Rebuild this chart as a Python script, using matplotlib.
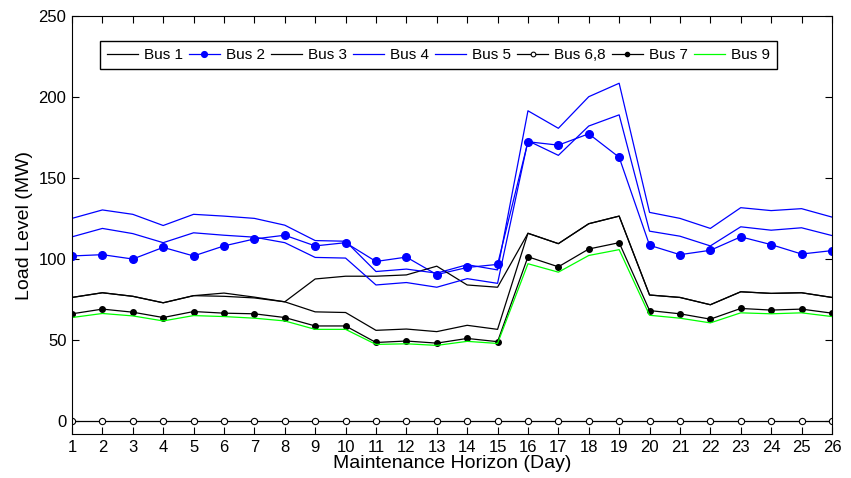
import numpy as np
import matplotlib.pyplot as plt

plt.rcParams['font.family'] = ['Liberation Sans', 'DejaVu Sans']

# Load per bus over the maintenance horizon (MW)
days = np.arange(1, 27)

bus1 = [76.3, 79.2, 77.0, 73.0, 77.4, 79.0, 76.5, 73.6, 67.4, 67.0, 56.0, 56.8, 55.2,
        59.1, 56.6, 115.9, 109.5, 121.8, 126.5, 77.8, 76.3, 71.8, 79.8, 78.8, 79.2, 76.3]
bus2 = [101.9, 102.7, 100.0, 107.2, 101.9, 108.1, 112.4, 114.7, 108.1, 110.1, 98.5, 101.2, 90.4,
        94.8, 96.7, 172.4, 170.3, 177.3, 162.8, 108.5, 102.7, 105.4, 113.7, 108.9, 103.1, 105.2]
bus3 = [76.3, 79.2, 77.0, 73.0, 77.4, 77.0, 76.0, 73.6, 87.7, 89.4, 89.4, 90.2, 95.6,
        84.0, 82.6, 115.9, 109.5, 121.8, 126.5, 77.8, 76.3, 71.8, 79.8, 78.8, 79.2, 76.3]
bus4 = [113.7, 118.9, 115.7, 110.1, 116.2, 114.7, 113.5, 110.1, 101.0, 100.6, 84.0, 85.5, 82.6,
        87.9, 85.0, 173.0, 164.0, 182.1, 189.0, 117.2, 114.1, 108.1, 119.9, 117.8, 119.3, 114.5]
bus5 = [125.1, 130.3, 127.6, 120.7, 127.6, 126.5, 125.1, 120.9, 111.4, 111.0, 92.3, 93.8, 91.3,
        96.5, 93.3, 191.5, 180.7, 200.2, 208.5, 128.8, 125.1, 118.9, 131.7, 129.9, 131.1, 125.9]
bus68 = [0] * 26
bus7 = [66.2, 69.1, 67.2, 63.9, 67.6, 66.6, 66.2, 63.9, 58.7, 58.7, 48.5, 49.4, 48.1,
        51.0, 49.0, 101.4, 95.2, 106.2, 110.1, 68.2, 66.2, 62.9, 69.5, 68.5, 69.1, 66.6]
bus9 = [63.9, 66.4, 64.9, 61.8, 65.1, 64.5, 63.5, 61.8, 56.6, 56.6, 47.3, 47.7, 46.7,
        49.2, 47.9, 97.1, 91.9, 102.2, 105.8, 65.3, 63.5, 60.6, 66.8, 66.2, 66.8, 64.5]

fig = plt.figure(figsize=(8.51, 4.78), dpi=100)
ax = fig.add_axes([0.0846, 0.092, 0.893, 0.8745])

lw = 0.9
ax.plot(days, bus1, color='k', lw=lw, label='Bus 1')
ax.plot(days, bus2, color='blue', lw=lw, marker='o', ms=5.5, label='Bus 2')
ax.plot(days, bus3, color='k', lw=lw, label='Bus 3')
ax.plot(days, bus4, color='blue', lw=lw, label='Bus 4')
ax.plot(days, bus5, color='blue', lw=lw, label='Bus 5')
ax.plot(days, bus68, color='k', lw=lw, marker='o', ms=4.5, mfc='white', mew=0.8, label='Bus 6,8')
ax.plot(days, bus7, color='k', lw=lw, marker='o', ms=4, label='Bus 7')
ax.plot(days, bus9, color='lime', lw=lw, label='Bus 9')

ax.set_xlim(1, 26)
ax.set_ylim(-8, 250)
ax.set_xticks(days)
ax.set_yticks(np.arange(0, 251, 50))
ax.tick_params(direction='in', top=True, right=True, labelsize=12, length=5, pad=4)

ax.set_xlabel('Maintenance Horizon (Day)', fontsize=14, labelpad=0)
ax.set_ylabel('Load Level (MW)', fontsize=14)

leg = ax.legend(ncol=8, loc='upper left', bbox_to_anchor=(0.037, 0.94), fontsize=11,
                fancybox=False, edgecolor='k', framealpha=1, handlelength=2.0,
                handletextpad=0.4, columnspacing=0.42, borderpad=0.45, borderaxespad=0,
                markerscale=0.75)
leg.get_frame().set_linewidth(1.0)

fig.savefig('out.png', dpi=100)
